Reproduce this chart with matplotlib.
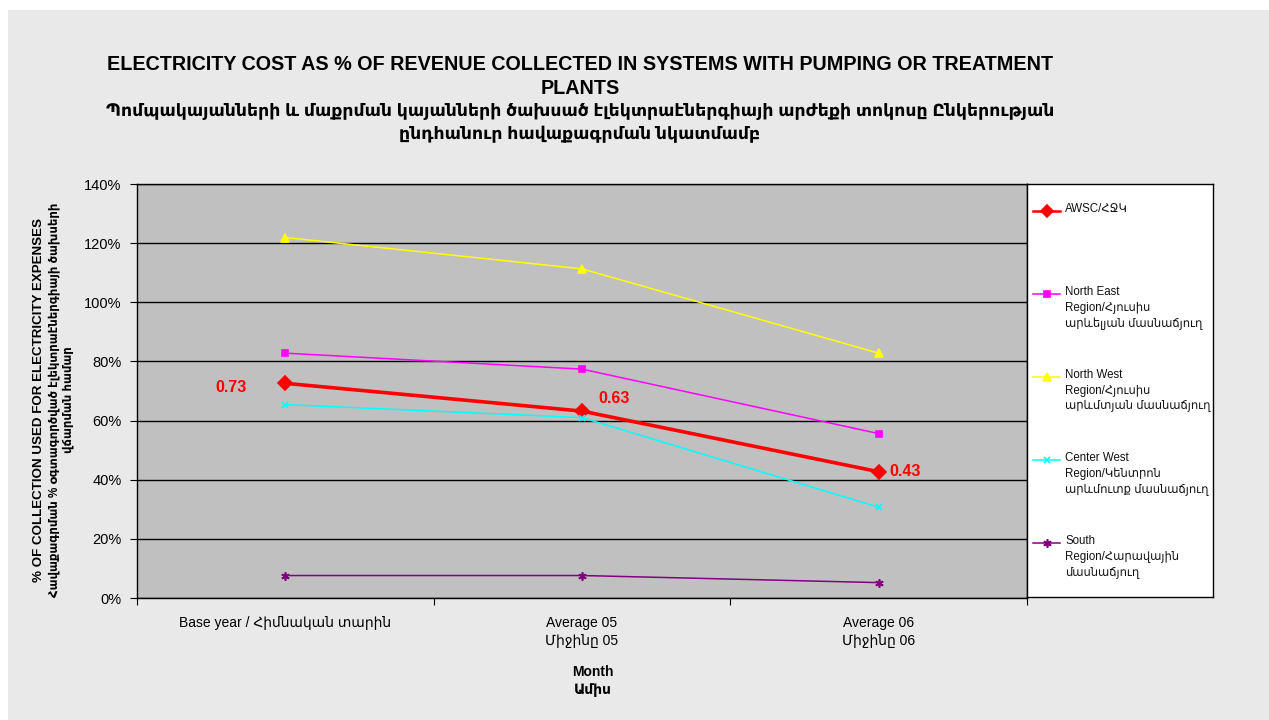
import matplotlib.pyplot as plt
from matplotlib.patches import Rectangle
from matplotlib.lines import Line2D

plt.rcParams['font.family'] = ['Liberation Sans', 'DejaVu Sans']

# Chart data (percent of collection)
categories = ["Base year / Հիմնական տարին", "Average 05\nՄիջինը 05", "Average 06\nՄիջինը 06"]
awsc = [72.6, 63.2, 42.7]
north_east = [82.8, 77.4, 55.6]
north_west = [121.9, 111.3, 82.8]
center_west = [65.4, 61.0, 30.7]
south = [7.6, 7.6, 5.2]
awsc_labels = ["0.73", "0.63", "0.43"]
y_ticks = [0, 20, 40, 60, 80, 100, 120, 140]

series_names = [
    "AWSC/ՀՋԿ",
    "North East\nRegion/Հյուսիս\nարևելյան մասնաճյուղ",
    "North West\nRegion/Հյուսիս\nարևմտյան մասնաճյուղ",
    "Center West\nRegion/Կենտրոն\nարևմուտք մասնաճյուղ",
    "South\nRegion/Հարավային\nմասնաճյուղ",
]
series_values = [awsc, north_east, north_west, center_west, south]
colors = ["#FF0000", "#FF00FF", "#FFFF00", "#00FFFF", "#800080"]
markers = ["D", "s", "^", "x", (6, 2, 0)]
marker_sizes = [7, 5, 6, 5, 6]
line_widths = [2.6, 1.1, 1.1, 1.1, 1.1]

W, H = 1269, 720
fig = plt.figure(figsize=(W / 100, H / 100), dpi=100)
fig.patch.set_facecolor("white")
fig.patches.append(Rectangle((8 / W, 0), 1, 710 / H, transform=fig.transFigure,
                             facecolor="#E9E9E9", edgecolor="none", zorder=-10))

ax = fig.add_axes([137 / W, 122 / H, 890 / W, 414 / H])
ax.set_facecolor("#C0C0C0")

x = [i + 0.5 for i in range(len(categories))]
for vals, c, m, ms, lw in zip(series_values, colors, markers, marker_sizes, line_widths):
    ax.plot(x, vals, color=c, marker=m, markersize=ms, linewidth=lw,
            markeredgecolor=c, markerfacecolor=c, markeredgewidth=1.2, zorder=3)

# AWSC data labels
offsets = [(-39, -4, "right"), (16, 13, "left"), (11, 0, "left")]
for xi, yi, lab, (dx, dy, ha) in zip(x, awsc, awsc_labels, offsets):
    ax.annotate(lab, (xi, yi), xytext=(dx, dy), textcoords="offset pixels",
                ha=ha, va="center", color="#FF0000", fontsize=11.5, fontweight="bold")

ax.set_xlim(0, len(categories))
ax.set_ylim(0, 140)
ax.set_yticks(y_ticks)
ax.set_yticklabels([f"{v}%" for v in y_ticks], fontsize=10.5)
ax.yaxis.grid(True, color="black", linewidth=1)
ax.set_axisbelow(True)
ax.tick_params(axis="y", direction="out", length=5, color="black", pad=6)

ax.set_xticks(range(len(categories) + 1))
ax.set_xticklabels([])
ax.set_xticks(x, minor=True)
ax.set_xticklabels(categories, minor=True, fontsize=10, linespacing=1.35)
ax.tick_params(axis="x", which="major", direction="out", length=5, color="black")
ax.tick_params(axis="x", which="minor", length=0, pad=13)
for s in ax.spines.values():
    s.set_color("black")
    s.set_linewidth(1)

# Titles
fig.text(580 / W, 1 - 65 / H, "ELECTRICITY COST AS % OF REVENUE COLLECTED IN SYSTEMS WITH PUMPING OR TREATMENT",
         ha="center", va="center", fontsize=14.2, fontweight="bold")
fig.text(580 / W, 1 - 88 / H, "PLANTS", ha="center", va="center", fontsize=14.2, fontweight="bold")
fig.text(580 / W, 1 - 111 / H,
         "Պոմպակայանների և մաքրման կայանների ծախսած էլեկտրաէներգիայի արժեքի տոկոսը Ընկերության",
         ha="center", va="center", fontsize=12.4, fontweight="bold")
fig.text(580 / W, 1 - 134 / H, "ընդհանուր հավաքագրման նկատմամբ",
         ha="center", va="center", fontsize=12.4, fontweight="bold")

# Y axis title, three rotated lines
fig.text(39 / W, 1 - 400 / H, "% OF COLLECTION USED FOR ELECTRICITY EXPENSES",
         rotation=90, ha="center", va="center", fontsize=9.6, fontweight="bold")
fig.text(54 / W, 1 - 400 / H, "Հավաքագրման % օգտագործված էլեկտրաէներգիայի ծախսերի",
         rotation=90, ha="center", va="center", fontsize=8.4, fontweight="bold")
fig.text(68 / W, 1 - 400 / H, "վճարման համար",
         rotation=90, ha="center", va="center", fontsize=8.4, fontweight="bold")

fig.text(593 / W, 1 - 672 / H, "Month", ha="center", va="center", fontsize=10, fontweight="bold")
fig.text(593 / W, 1 - 690 / H, "Ամիս", ha="center", va="center", fontsize=10, fontweight="bold")

# Legend box to the right of the plot
leg = fig.add_axes([1027 / W, 123 / H, 186 / W, 413 / H])
leg.set_xlim(0, 186)
leg.set_ylim(413, 0)
leg.set_facecolor("white")
leg.set_xticks([])
leg.set_yticks([])
for s in leg.spines.values():
    s.set_color("black")
    s.set_linewidth(1)
for i, (name, c, m, ms, lw) in enumerate(zip(series_names, colors, markers, marker_sizes, line_widths)):
    y = 27 + 83 * i
    leg.add_line(Line2D([6, 33], [y, y], color=c, linewidth=min(lw, 1.8)))
    leg.plot([19.5], [y], marker=m, markersize=min(ms, 6), color=c, markeredgewidth=1.2)
    leg.text(38, y - 8, name, ha="left", va="top", fontsize=8.3, linespacing=1.4, color="#111111")

fig.savefig("out.png", dpi=100)
